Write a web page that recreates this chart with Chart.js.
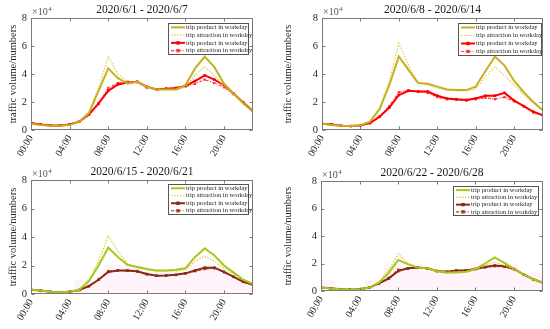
<!DOCTYPE html>
<html>
<head>
<meta charset="utf-8">
<script src="https://cdn.jsdelivr.net/npm/chart.js@4.4.1/dist/chart.umd.min.js"></script>
<style>
  body { margin: 0; background: #fff; width: 550px; height: 329px; position: relative; overflow: hidden; }
  canvas { position: absolute; }
</style>
</head>
<body>
<canvas id="c1" width="275" height="165" style="left:0;top:0"></canvas>
<canvas id="c2" width="275" height="165" style="left:275px;top:0"></canvas>
<canvas id="c3" width="275" height="164" style="left:0;top:165px"></canvas>
<canvas id="c4" width="275" height="164" style="left:275px;top:165px"></canvas>
<script>
// hours of the day and tick positions
const hours = [0,1,2,3,4,5,6,7,8,9,10,11,12,13,14,15,16,17,18,19,20,21,22,23];
const hourTicks = [0,4,8,12,16,20];
const volumeTicks = [0,2,4,6,8]; // x10^4

const legendLabels = ['trip product in workday', 'trip attraction in workday', 'trip product in workday', 'trip attraction in workday'];
const titles = ['2020/6/1 - 2020/6/7', '2020/6/8 - 2020/6/14', '2020/6/15 - 2020/6/21', '2020/6/22 - 2020/6/28'];

// week 1
const w1Product    = [0.45,0.35,0.3,0.3,0.35,0.6,1.2,2.8,4.4,3.7,3.3,3.45,3.1,2.9,2.9,2.9,3.2,4.4,5.25,4.5,3.3,2.6,1.9,1.3];
const w1Attraction = [0.45,0.35,0.3,0.3,0.35,0.6,1.3,3.0,5.25,4.0,3.4,3.4,3.0,2.85,2.9,2.85,3.05,3.9,4.55,3.9,3.1,2.55,1.9,1.3];
const w1ProductB   = [0.5,0.4,0.32,0.32,0.4,0.6,1.1,1.9,2.8,3.25,3.4,3.45,3.1,2.9,2.95,3.0,3.15,3.5,3.9,3.6,3.2,2.6,1.95,1.35];
const w1AttractionB= [0.5,0.4,0.3,0.3,0.38,0.6,1.1,1.85,3.0,3.35,3.45,3.4,3.0,2.9,2.95,2.95,3.1,3.3,3.6,3.35,3.05,2.55,1.95,1.3];

// week 2
const w2Product    = [0.45,0.35,0.3,0.28,0.35,0.6,1.5,3.2,5.25,4.3,3.35,3.3,3.1,2.9,2.85,2.85,3.1,4.2,5.25,4.6,3.5,2.7,2.0,1.4];
const w2Attraction = [0.45,0.35,0.3,0.28,0.35,0.6,1.6,3.5,6.2,4.6,3.4,3.2,3.0,2.85,2.8,2.8,2.9,3.8,4.5,3.9,3.2,2.5,1.9,1.35];
const w2ProductB   = [0.45,0.4,0.3,0.28,0.33,0.5,0.95,1.6,2.5,2.8,2.75,2.75,2.45,2.25,2.2,2.15,2.25,2.45,2.45,2.65,2.1,1.7,1.3,1.05];
const w2AttractionB= [0.45,0.4,0.3,0.28,0.33,0.5,0.95,1.7,2.7,2.85,2.75,2.65,2.35,2.2,2.15,2.1,2.2,2.3,2.2,2.35,2.05,1.7,1.25,1.05];

// week 3
const w3Product    = [0.3,0.25,0.15,0.12,0.15,0.3,0.9,2.0,3.25,2.6,2.05,1.9,1.75,1.65,1.65,1.7,1.8,2.6,3.2,2.7,2.0,1.5,1.0,0.7];
const w3Attraction = [0.3,0.25,0.15,0.12,0.15,0.3,1.0,2.3,4.1,3.0,2.1,1.85,1.7,1.6,1.6,1.6,1.7,2.3,2.65,2.3,1.8,1.4,1.0,0.75];
const w3ProductB   = [0.3,0.25,0.15,0.12,0.15,0.28,0.55,1.0,1.55,1.65,1.65,1.6,1.4,1.28,1.3,1.35,1.45,1.65,1.85,1.85,1.55,1.2,0.85,0.65];
const w3AttractionB= [0.3,0.25,0.15,0.12,0.15,0.28,0.55,1.0,1.6,1.65,1.62,1.58,1.38,1.28,1.3,1.33,1.45,1.6,1.75,1.8,1.52,1.2,0.85,0.65];
const w3Band       = [0.25,0.25,0.25,0.25,0.25,1.0,1.0,1.0,2.05,2.05,2.05,2.05,1.5,1.5,1.5,1.5,1.5,2.05,2.05,2.05,1.5,1.0,1.0,1.0];

// week 4
const w4Product    = [0.25,0.18,0.12,0.1,0.12,0.25,0.6,1.3,2.25,1.95,1.7,1.65,1.45,1.35,1.35,1.4,1.6,2.0,2.45,2.05,1.6,1.2,0.85,0.6];
const w4Attraction = [0.25,0.18,0.12,0.1,0.12,0.25,0.65,1.5,2.7,2.0,1.7,1.6,1.4,1.3,1.35,1.35,1.55,1.85,2.1,1.85,1.55,1.2,0.85,0.6];
const w4ProductB   = [0.25,0.2,0.13,0.1,0.12,0.25,0.55,0.9,1.45,1.65,1.7,1.65,1.45,1.4,1.5,1.5,1.6,1.75,1.85,1.8,1.6,1.2,0.85,0.6];
const w4AttractionB= [0.25,0.2,0.13,0.1,0.12,0.25,0.55,0.95,1.55,1.62,1.68,1.62,1.45,1.38,1.45,1.48,1.6,1.72,1.8,1.75,1.58,1.2,0.85,0.6];
const w4Band       = [0.8,0.8,0.2,0.2,0.2,0.8,0.8,2.0,2.0,2.0,2.0,1.45,1.45,1.45,1.45,1.45,2.0,2.0,2.0,2.0,2.0,1.3,1.3,1.3];

const pts = arr => arr.map((v, i) => ({ x: hours[i], y: v }));
const serif = '"Liberation Serif", "Times New Roman", serif';

function makeSets(prod, attr, prodB, attrB, band, c) {
  const sets = [
    { label: legendLabels[0], data: pts(prod), borderColor: c[0], borderWidth: 2, pointRadius: 0 },
    { label: legendLabels[1], data: pts(attr), borderColor: c[1], borderWidth: 1.2, borderDash: [1.5, 1.5], pointRadius: 0 },
    { label: legendLabels[2], data: pts(prodB), borderColor: c[2], backgroundColor: c[2], borderWidth: 2,
      pointStyle: 'rect', pointRadius: 1.8, pointBorderWidth: 0 },
    { label: legendLabels[3], data: pts(attrB), borderColor: c[3], backgroundColor: c[3], borderWidth: 1.2,
      borderDash: [3, 1.5, 1, 1.5], pointStyle: 'rect', pointRadius: 1.6, pointBorderWidth: 0 }
  ];
  if (band) {
    sets.push({ label: 'band', isBand: true, data: pts(band), stepped: 'middle', fill: 'origin',
      backgroundColor: 'rgba(255,140,225,0.1)', borderWidth: 0, pointRadius: 0, order: 10 });
  }
  return sets;
}

// box, inward ticks, title, exponent and legend
const decor = {
  id: 'decor',
  afterDraw(chart, args, o) {
    const { ctx, chartArea: a, scales: { x, y } } = chart;
    const L = Math.round(a.left) + 0.5, R = Math.round(a.right) - 0.5;
    const T = Math.round(a.top) + 0.5, B = Math.round(a.bottom) - 0.5;
    ctx.save();
    ctx.strokeStyle = '#7a7a7a';
    ctx.lineWidth = 1;
    ctx.strokeRect(L, T, R - L, B - T);
    ctx.beginPath();
    hourTicks.forEach(v => {
      const px = Math.round(x.getPixelForValue(v)) + 0.5;
      ctx.moveTo(px, B); ctx.lineTo(px, B - 3);
      ctx.moveTo(px, T); ctx.lineTo(px, T + 3);
    });
    volumeTicks.forEach(v => {
      const py = Math.round(y.getPixelForValue(v)) + 0.5;
      ctx.moveTo(L, py); ctx.lineTo(L + 3, py);
      ctx.moveTo(R, py); ctx.lineTo(R - 3, py);
    });
    ctx.stroke();

    ctx.fillStyle = '#1a1a1a';
    ctx.textAlign = 'center';
    ctx.textBaseline = 'middle';
    ctx.font = '11.5px ' + serif;
    ctx.fillText(o.title, (a.left + a.right) / 2, a.top - 8);

    ctx.fillStyle = '#555';
    ctx.textAlign = 'left';
    ctx.textBaseline = 'alphabetic';
    ctx.font = '10px ' + serif;
    ctx.fillText('\u00d710', a.left + 1, a.top - 3);
    const w = ctx.measureText('\u00d710').width;
    ctx.font = '7px ' + serif;
    ctx.fillText('4', a.left + 1 + w + 0.5, a.top - 7);

    // legend
    const lg = o.legend;
    ctx.fillStyle = '#fff';
    ctx.fillRect(lg.x, lg.y, lg.w, lg.h);
    ctx.strokeStyle = '#555';
    ctx.strokeRect(lg.x + 0.5, lg.y + 0.5, lg.w, lg.h);
    const items = chart.data.datasets.filter(d => !d.isBand);
    const rowH = lg.h / items.length;
    ctx.font = '6.5px ' + serif;
    ctx.textBaseline = 'middle';
    items.forEach((d, i) => {
      const cy = lg.y + rowH * (i + 0.5) + 0.5;
      ctx.strokeStyle = d.borderColor;
      ctx.lineWidth = d.borderWidth;
      ctx.setLineDash(d.borderDash || []);
      ctx.beginPath();
      ctx.moveTo(lg.x + 3, cy); ctx.lineTo(lg.x + 17, cy);
      ctx.stroke();
      ctx.setLineDash([]);
      if (d.pointRadius) {
        ctx.fillStyle = d.borderColor;
        ctx.fillRect(lg.x + 10 - 1.7, cy - 1.7, 3.4, 3.4);
      }
      ctx.fillStyle = '#222';
      ctx.fillText(d.label, lg.x + 18, cy);
    });
    ctx.restore();
  }
};

function makeChart(id, title, datasets, box, legend) {
  const cv = document.getElementById(id);
  const W = cv.width, H = cv.height;
  return new Chart(cv, {
    type: 'line',
    data: { datasets },
    options: {
      responsive: false,
      animation: false,
      layout: { padding: { left: 0, right: W - box.right, top: box.top, bottom: 0 } },
      plugins: { legend: { display: false }, tooltip: { enabled: false }, decor: { title, legend } },
      elements: { line: { tension: 0 } },
      scales: {
        x: {
          type: 'linear', min: 0, max: 23,
          afterBuildTicks: s => { s.ticks = hourTicks.map(v => ({ value: v })); },
          afterFit: s => { s.height = H - box.bottom; },
          grid: { display: false, drawTicks: false }, border: { display: false },
          ticks: {
            minRotation: 60, maxRotation: 60, padding: 3, color: '#262626',
            font: { family: serif, size: 10 },
            callback: v => String(v).padStart(2, '0') + ':00'
          }
        },
        y: {
          min: 0, max: 8,
          afterBuildTicks: s => { s.ticks = volumeTicks.map(v => ({ value: v })); },
          afterFit: s => { s.width = box.left; },
          grid: { display: false, drawTicks: false }, border: { display: false },
          ticks: { padding: 4, color: '#262626', font: { family: serif, size: 10.5 } },
          title: { display: true, text: 'traffic volume/numbers', color: '#262626',
                   font: { family: serif, size: 10.5 }, padding: { top: 7, bottom: 0 } }
        }
      }
    },
    plugins: [decor]
  });
}

const warm = ['#c4b021', '#dccf4e', '#ff0000', '#ff3344'];
const cool = ['#a6c71c', '#e3c62c', '#8a2a12', '#a63c1e'];

makeChart('c1', titles[0], makeSets(w1Product, w1Attraction, w1ProductB, w1AttractionB, null, warm),
  { left: 31, right: 253, top: 18, bottom: 130 }, { x: 168, y: 23, w: 80, h: 31 });
makeChart('c2', titles[1], makeSets(w2Product, w2Attraction, w2ProductB, w2AttractionB, null, warm),
  { left: 47, right: 268, top: 18, bottom: 130 }, { x: 183, y: 23, w: 83, h: 32 });
makeChart('c3', titles[2], makeSets(w3Product, w3Attraction, w3ProductB, w3AttractionB, w3Band, cool),
  { left: 31, right: 253, top: 15, bottom: 129 }, { x: 168, y: 19, w: 80, h: 30 });
makeChart('c4', titles[3], makeSets(w4Product, w4Attraction, w4ProductB, w4AttractionB, w4Band, cool),
  { left: 46, right: 268, top: 16, bottom: 126 }, { x: 178, y: 21, w: 85, h: 29 });
</script>
</body>
</html>
